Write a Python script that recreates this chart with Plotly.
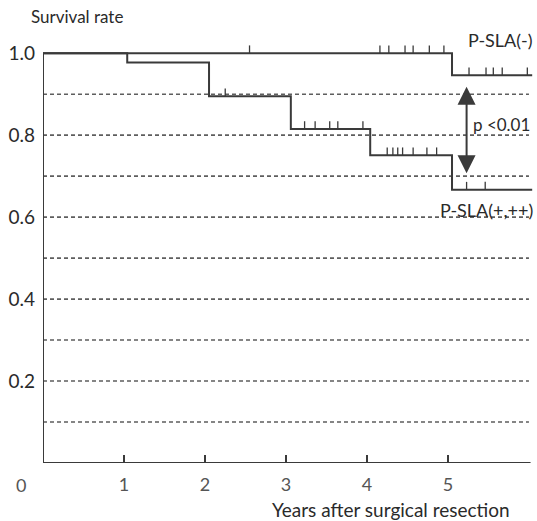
import plotly.graph_objects as go
import numpy as np

# ---- data ----
# P-SLA(-) group: step times and survival levels
neg_step_times = [5.05]
neg_levels = [1.0, 0.946]
neg_censored = [2.55, 4.16, 4.27, 4.47, 4.57, 4.77, 4.95, 5.26, 5.47, 5.56, 5.67, 5.98]
neg_end = 6.04

# P-SLA(+,++) group
pos_step_times = [1.04, 2.05, 3.06, 4.04, 5.05]
pos_levels = [1.0, 0.977, 0.895, 0.815, 0.751, 0.667]
pos_censored = [2.25, 3.23, 3.36, 3.54, 3.64, 3.95, 4.25, 4.32, 4.38, 4.44, 4.57,
                4.74, 4.86, 5.23, 5.46]
pos_end = 6.04

grid_levels = [0.1, 0.2, 0.3, 0.4, 0.5, 0.6, 0.7, 0.8, 0.9]
y_ticks = [0.2, 0.4, 0.6, 0.8, 1.0]
y_ticktext = ["0.2", "0.4", "0.6", "0.8", "1.0"]
x_ticks = [1, 2, 3, 4, 5]
x_ticktext = ["1", "2", "3", "4", "5"]

arrow_x = 5.23
arrow_top = 0.922
arrow_bottom = 0.707

FONT = "Lato"
INK = "#2a2a2a"
LINE = "#3a3a3a"


def step_xy(times, levels, end):
    xs, ys = [0.0], [levels[0]]
    for t, lv_prev, lv in zip(times, levels[:-1], levels[1:]):
        xs += [t, t]
        ys += [lv_prev, lv]
    xs.append(end)
    ys.append(levels[-1])
    return xs, ys


def level_at(t, times, levels):
    idx = int(np.searchsorted(times, t, side="right"))
    return levels[idx]


fig = go.Figure()

# dashed reference lines
for g in grid_levels:
    fig.add_shape(type="line", x0=0, x1=6.0, y0=g, y1=g, xref="x", yref="y",
                  line=dict(color="#5e5e5e", width=1.6, dash="4px,3px"), layer="below")

# axes lines
fig.add_shape(type="line", x0=0, x1=0, y0=0, y1=1.0, xref="x", yref="y",
              line=dict(color=LINE, width=2))
fig.add_shape(type="line", x0=0, x1=6.02, y0=0, y1=0, xref="x", yref="y",
              line=dict(color=LINE, width=2))

for times, levels, end, cens in [
    (neg_step_times, neg_levels, neg_end, neg_censored),
    (pos_step_times, pos_levels, pos_end, pos_censored),
]:
    xs, ys = step_xy(times, levels, end)
    fig.add_trace(go.Scatter(x=xs, y=ys, mode="lines",
                             line=dict(color=LINE, width=2), showlegend=False,
                             hoverinfo="skip", cliponaxis=False))
    cy = [level_at(t, times, levels) for t in cens]
    fig.add_trace(go.Scatter(
        x=cens, y=cy, mode="markers",
        marker=dict(size=1, color="rgba(0,0,0,0)"),
        error_y=dict(type="constant", value=0.019, valueminus=0, symmetric=False,
                     width=0, thickness=1.3, color=LINE),
        showlegend=False, hoverinfo="skip", cliponaxis=False))

# double-headed arrow
fig.add_annotation(x=arrow_x, y=arrow_bottom, ax=arrow_x, ay=arrow_top,
                   xref="x", yref="y", axref="x", ayref="y", text="",
                   showarrow=True, arrowhead=2, arrowside="end+start",
                   arrowsize=1.8, arrowwidth=2, arrowcolor=LINE)

ann_font = dict(family=FONT, size=18, color=INK)
fig.add_annotation(x=1.004, y=1.012, xref="paper", yref="paper", text="P-SLA(-)",
                   showarrow=False, xanchor="right", yanchor="middle", font=ann_font)
fig.add_annotation(x=1.004, y=0.605, xref="paper", yref="paper", text="P-SLA(+,++)",
                   showarrow=False, xanchor="right", yanchor="middle", font=ann_font)
fig.add_annotation(x=0.998, y=0.809, xref="paper", yref="paper", text="p &lt;0.01",
                   showarrow=False, xanchor="right", yanchor="middle",
                   font=dict(family=FONT, size=17, color=INK))
fig.add_annotation(x=0.167, y=1.067, xref="paper", yref="paper", text="Survival rate",
                   showarrow=False, xanchor="right", yanchor="middle",
                   font=dict(family=FONT, size=17, color=INK))
fig.add_annotation(x=-0.045, y=-0.053, xref="paper", yref="paper", text="0",
                   showarrow=False, xanchor="center", yanchor="middle",
                   font=dict(family=FONT, size=18, color="#555"))
fig.add_annotation(x=0.71, y=-0.112, xref="paper", yref="paper",
                   text="Years after surgical resection",
                   showarrow=False, xanchor="center", yanchor="middle",
                   font=dict(family=FONT, size=19, color=INK))

fig.update_xaxes(range=[0, 6.05], showgrid=False, zeroline=False, showline=False,
                 tickvals=x_ticks, ticktext=x_ticktext, ticks="inside", ticklen=8,
                 tickwidth=1.5, tickcolor=LINE, ticklabelstandoff=9,
                 tickfont=dict(family=FONT, size=18, color="#555"))
fig.update_yaxes(range=[0, 1.02], showgrid=False, zeroline=False, showline=False,
                 tickvals=y_ticks, ticktext=y_ticktext, ticks="",
                 ticklabelstandoff=7,
                 tickfont=dict(family=FONT, size=19, color=INK))

fig.update_layout(width=537, height=521,
                  margin=dict(l=43, r=4, t=45, b=58),
                  plot_bgcolor="white", paper_bgcolor="white",
                  showlegend=False)

fig.write_html("out.html", config={"displayModeBar": False},
               post_script="document.body.style.margin='0';"
                           "document.body.style.overflow='hidden';")
